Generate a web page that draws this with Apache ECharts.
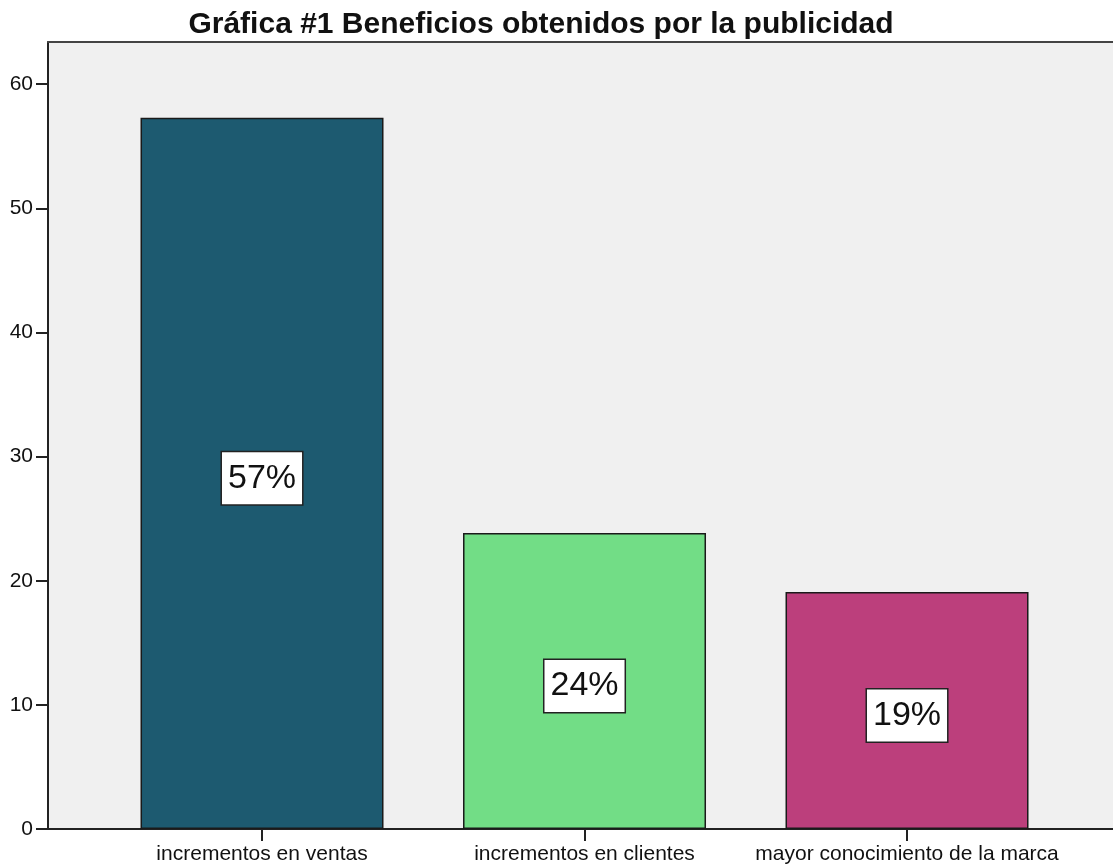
<!DOCTYPE html>
<html>
<head>
<meta charset="utf-8">
<script src="https://cdn.jsdelivr.net/npm/echarts@6/dist/echarts.min.js"></script>
<style>
  html, body { margin: 0; padding: 0; background: #fff; }
  #chart { width: 1113px; height: 867px; }
</style>
</head>
<body>
<div id="chart"></div>
<script>
const categories = ['incrementos en ventas', 'incrementos en clientes', 'mayor conocimiento de la marca'];
const positions = [1, 2, 3];
const values = [57.3, 23.85, 19.1];
const barColors = ['#1d5a70', '#72dd86', '#bc3f7c'];
const yTicks = [0, 10, 20, 30, 40, 50, 60];

const chart = echarts.init(document.getElementById('chart'));

const barData = positions.map((p, i) => ({
    value: [p, values[i]],
    itemStyle: { color: barColors[i] }
}));

// x range chosen so the plot runs past the right edge like the original
const xMin = 0.3364;
const xMax = 3.6387;

const option = {
    animation: false,
    textStyle: { fontFamily: 'Liberation Sans, Arial, sans-serif' },
    title: {
        text: 'Gráfica #1 Beneficios obtenidos por la publicidad',
        left: 536,
        textAlign: 'center',
        top: 5,
        textStyle: { fontSize: 30, fontWeight: 'bold', color: '#111' }
    },
    grid: {
        left: 48,
        right: 0,
        top: 42,
        bottom: 38,
        show: true,
        backgroundColor: '#f0f0f0',
        borderWidth: 0
    },
    xAxis: [{
        type: 'value',
        min: xMin,
        max: xMax,
        splitLine: { show: false },
        axisLine: { show: true, onZero: false, lineStyle: { color: '#222', width: 2 } },
        axisTick: {
            show: true,
            customValues: positions,
            length: 12,
            lineStyle: { color: '#222', width: 2 }
        },
        axisLabel: {
            customValues: positions,
            formatter: v => categories[Math.round(v) - 1] || '',
            fontSize: 21,
            color: '#111',
            margin: 15
        }
    }, {
        type: 'value',
        position: 'top',
        min: xMin,
        max: xMax,
        splitLine: { show: false },
        axisLine: { show: true, onZero: false, lineStyle: { color: '#444', width: 2 } },
        axisTick: { show: false },
        axisLabel: { show: false }
    }],
    yAxis: {
        type: 'value',
        min: 0,
        max: 63.4,
        splitLine: { show: false },
        axisLine: { show: true, lineStyle: { color: '#222', width: 2 } },
        axisTick: {
            show: true,
            customValues: yTicks,
            length: 12,
            lineStyle: { color: '#222', width: 2 }
        },
        axisLabel: {
            customValues: yTicks,
            fontSize: 21,
            color: '#111',
            margin: 15
        }
    },
    series: [{
        type: 'bar',
        barWidth: 243,
        data: barData,
        itemStyle: { borderColor: '#1a1a1a', borderWidth: 1.5 },
        label: {
            show: true,
            position: 'inside',
            offset: [0, 5],
            formatter: p => Math.round(p.value[1]) + '%',
            fontSize: 34,
            lineHeight: 36,
            color: '#111',
            backgroundColor: '#fff',
            borderColor: '#222',
            borderWidth: 1.5,
            padding: [10, 6, 6, 6]
        }
    }]
};

chart.setOption(option);
</script>
</body>
</html>
